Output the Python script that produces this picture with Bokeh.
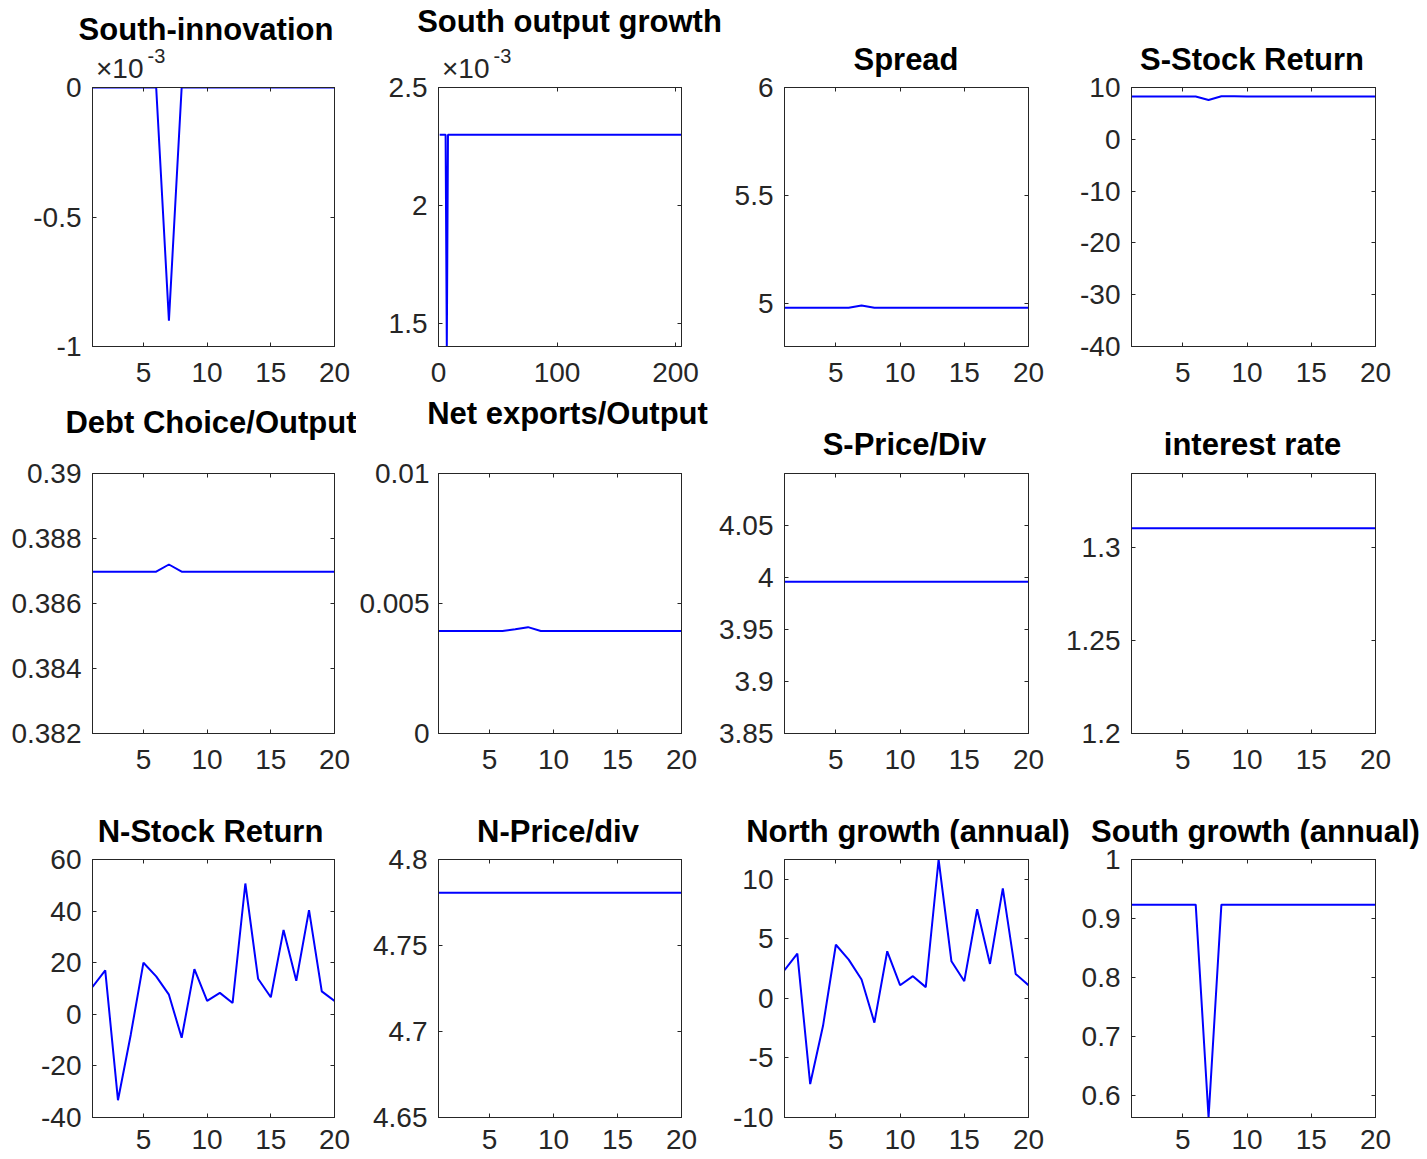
from bokeh.plotting import figure
from bokeh.models import Range1d, FixedTicker, LinearAxis, CustomJSTickFormatter, Label
from bokeh.layouts import row, column
from bokeh.embed import file_html
from bokeh.resources import INLINE

# ---------------- data ----------------
periods = list(range(1, 21))
long_periods = list(range(1, 206))

south_innovation = [0, 0, 0, 0, 0, 0, -0.0009, 0, 0, 0, 0, 0, 0, 0, 0, 0, 0, 0, 0, 0]
south_output_growth = [0.0023] * 6 + [0.001403] + [0.0023] * 198
spread = [4.98, 4.98, 4.98, 4.98, 4.98, 4.98, 4.99, 4.98, 4.98, 4.98,
          4.98, 4.98, 4.98, 4.98, 4.98, 4.98, 4.98, 4.98, 4.98, 4.98]
s_stock_return = [8.26, 8.26, 8.26, 8.26, 8.26, 8.26, 7.6, 8.32, 8.3, 8.27,
                  8.26, 8.26, 8.26, 8.26, 8.26, 8.26, 8.26, 8.26, 8.26, 8.26]
debt_output = [0.38698, 0.38698, 0.38698, 0.38698, 0.38698, 0.38698, 0.38720, 0.38698, 0.38698, 0.38698,
               0.38698, 0.38698, 0.38698, 0.38698, 0.38698, 0.38698, 0.38698, 0.38698, 0.38698, 0.38698]
net_exports_output = [0.00394, 0.00394, 0.00394, 0.00394, 0.00394, 0.00394, 0.00401, 0.00409, 0.00394, 0.00394,
                      0.00394, 0.00394, 0.00394, 0.00394, 0.00394, 0.00394, 0.00394, 0.00394, 0.00394, 0.00394]
s_price_div = [3.996] * 20
interest_rate = [1.3105] * 20
n_stock_return = [10.6, 17.0, -33.3, -8.0, 20.0, 14.7, 7.6, -9.1, 17.5, 5.2,
                  8.3, 4.4, 50.7, 13.8, 6.6, 32.7, 13.0, 40.4, 8.9, 5.2]
n_price_div = [4.7807] * 20
north_growth = [2.37, 3.76, -7.19, -2.3, 4.51, 3.26, 1.59, -2.03, 3.96, 1.11,
                1.87, 0.95, 11.67, 3.12, 1.45, 7.49, 2.9, 9.25, 2.06, 1.11]
south_growth = [0.9233, 0.9233, 0.9233, 0.9233, 0.9233, 0.9233, 0.5618, 0.9233, 0.9233, 0.9233,
                0.9233, 0.9233, 0.9233, 0.9233, 0.9233, 0.9233, 0.9233, 0.9233, 0.9233, 0.9233]

titles = ["South-innovation", "South output growth", "Spread", "S-Stock Return",
          "Debt Choice/Output", "Net exports/Output", "S-Price/Div", "interest rate",
          "N-Stock Return", "N-Price/div", "North growth (annual)", "South growth (annual)"]

x_ticks_short = [5, 10, 15, 20]
x_ticks_long = [0, 100, 200]

panels = [
    dict(x=periods, y=south_innovation, xr=(1, 20), yr=(-0.001, 0), xt=x_ticks_short,
         yt=[-0.001, -0.0005, 0], scale=1000.0, expo=True),
    dict(x=long_periods, y=south_output_growth, xr=(0, 205), yr=(0.001403, 0.0025), xt=x_ticks_long,
         yt=[0.0015, 0.002, 0.0025], scale=1000.0, expo=True),
    dict(x=periods, y=spread, xr=(1, 20), yr=(4.8, 6), xt=x_ticks_short, yt=[5, 5.5, 6]),
    dict(x=periods, y=s_stock_return, xr=(1, 20), yr=(-40, 10), xt=x_ticks_short,
         yt=[-40, -30, -20, -10, 0, 10]),
    dict(x=periods, y=debt_output, xr=(1, 20), yr=(0.382, 0.39), xt=x_ticks_short,
         yt=[0.382, 0.384, 0.386, 0.388, 0.39]),
    dict(x=periods, y=net_exports_output, xr=(1, 20), yr=(0, 0.01), xt=x_ticks_short,
         yt=[0, 0.005, 0.01], ystand=9),
    dict(x=periods, y=s_price_div, xr=(1, 20), yr=(3.85, 4.1), xt=x_ticks_short,
         yt=[3.85, 3.9, 3.95, 4.0, 4.05]),
    dict(x=periods, y=interest_rate, xr=(1, 20), yr=(1.2, 1.34), xt=x_ticks_short,
         yt=[1.2, 1.25, 1.3]),
    dict(x=periods, y=n_stock_return, xr=(1, 20), yr=(-40, 60), xt=x_ticks_short,
         yt=[-40, -20, 0, 20, 40, 60]),
    dict(x=periods, y=n_price_div, xr=(1, 20), yr=(4.65, 4.8), xt=x_ticks_short,
         yt=[4.65, 4.7, 4.75, 4.8]),
    dict(x=periods, y=north_growth, xr=(1, 20), yr=(-10, 11.67), xt=x_ticks_short,
         yt=[-10, -5, 0, 5, 10]),
    dict(x=periods, y=south_growth, xr=(1, 20), yr=(0.5618, 1), xt=x_ticks_short,
         yt=[0.6, 0.7, 0.8, 0.9, 1.0]),
]

# ---------------- layout geometry (page pixels) ----------------
ROWS = [
    dict(top=0, bottom=395, ftop=87, fh=259, bounds=[0, 360, 725, 1075, 1427], xstand=16),
    dict(top=395, bottom=800, ftop=473, fh=260, bounds=[0, 356, 712, 1060, 1427], xstand=16),
    dict(top=800, bottom=1159, ftop=859, fh=258, bounds=[0, 360, 700, 1072, 1427], xstand=12),
]
COL_LEFT = [92, 438, 784, 1131]
COL_W = [242, 243, 244, 244]
TITLE_POS = [
    [(205.5, 29), (569, 21), (905.5, 59), (1251.5, 59)],
    [(210.5, 422), (567, 413), (904, 444), (1252, 444)],
    [(210, 831), (557.5, 831), (907.5, 831), (1255, 831)],
]

FONT = "Liberation Sans"
AXC = "#262626"
TICK_FS = "28px"
TITLE_FS = "31px"


def tick_fmt(scale=1.0):
    return CustomJSTickFormatter(args=dict(s=scale),
                                 code="return String(parseFloat((tick*s).toFixed(6)));")


def blank_fmt():
    return CustomJSTickFormatter(code="return '';")


def style_axis(ax, ticks, fmt, labels=True):
    ax.ticker = FixedTicker(ticks=ticks)
    ax.formatter = fmt
    ax.axis_line_color = AXC
    ax.axis_line_width = 1
    ax.major_tick_line_color = AXC
    ax.major_tick_in = 4
    ax.major_tick_out = 0
    ax.minor_tick_line_color = None
    if labels:
        ax.major_label_text_font = FONT
        ax.major_label_text_font_size = TICK_FS
        ax.major_label_text_color = AXC
    else:
        ax.major_label_text_font_size = "1px"
        ax.major_label_standoff = 0


rows = []
for r, geo in enumerate(ROWS):
    figs = []
    for c in range(4):
        k = r * 4 + c
        spec = panels[k]
        bl, br = geo["bounds"][c], geo["bounds"][c + 1]
        fl, fw = COL_LEFT[c], COL_W[c]
        ft, fh = geo["ftop"], geo["fh"]
        x0, x1 = spec["xr"]
        y0, y1 = spec["yr"]
        p = figure(frame_width=fw, frame_height=fh,
                   min_border_left=fl - bl, min_border_right=br - (fl + fw),
                   min_border_top=ft - geo["top"], min_border_bottom=geo["bottom"] - (ft + fh),
                   x_range=Range1d(x0, x1), y_range=Range1d(y0, y1),
                   output_backend="svg", toolbar_location=None,
                   background_fill_color="white", border_fill_color="white")
        p.xgrid.visible = False
        p.ygrid.visible = False
        p.outline_line_color = AXC
        p.outline_line_width = 1

        scale = spec.get("scale", 1.0)
        xa = p.xaxis[0]
        style_axis(xa, spec["xt"], tick_fmt())
        xa.major_label_standoff = geo["xstand"]
        ya = p.yaxis[0]
        style_axis(ya, spec["yt"], tick_fmt(scale))
        ya.major_label_standoff = spec.get("ystand", 11)

        top_ax = LinearAxis()
        style_axis(top_ax, spec["xt"], blank_fmt(), labels=False)
        p.add_layout(top_ax, "above")
        right_ax = LinearAxis()
        style_axis(right_ax, spec["yt"], blank_fmt(), labels=False)
        p.add_layout(right_ax, "right")

        p.line(spec["x"], spec["y"], line_color="#0000FF", line_width=2)

        def dx(X):
            return x0 + (X - fl) / fw * (x1 - x0)

        def dy(Y):
            return y1 - (Y - ft) / fh * (y1 - y0)

        tx, ty = TITLE_POS[r][c]
        p.add_layout(Label(x=dx(tx), y=dy(ty), text=titles[k], text_font=FONT,
                           text_font_style="bold", text_font_size=TITLE_FS,
                           text_color="black", text_align="center",
                           text_baseline="alphabetic"), "above")
        if spec.get("expo"):
            p.add_layout(Label(x=dx(fl + 3.5), y=dy(68), text="\u00d710", text_font=FONT,
                               text_font_size=TICK_FS, text_color=AXC,
                               text_align="left", text_baseline="alphabetic"), "above")
            p.add_layout(Label(x=dx(fl + 55), y=dy(55), text="-3", text_font=FONT,
                               text_font_size="20px", text_color=AXC,
                               text_align="left", text_baseline="alphabetic"), "above")
        figs.append(p)
    rows.append(row(*figs, spacing=0))

layout = column(*rows, spacing=0)

open("out.html", "w").write(file_html(layout, INLINE))
